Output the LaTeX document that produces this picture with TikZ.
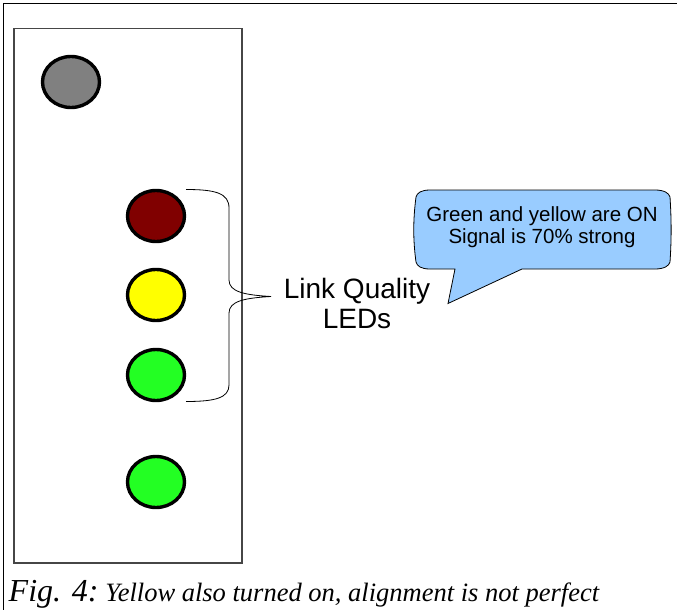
\documentclass[tikz,border=0pt]{standalone}
\usepackage{fontspec}
\usetikzlibrary{shapes.geometric}
\newfontfamily\arialf{Liberation Sans}
\newfontfamily\timesf{Liberation Serif}
\definecolor{ledgray}{RGB}{128,128,128}
\definecolor{ledred}{RGB}{128,0,0}
\definecolor{ledyellow}{RGB}{255,255,0}
\definecolor{ledgreen}{RGB}{35,255,35}
\definecolor{callblue}{RGB}{153,204,255}
\definecolor{framegray}{RGB}{70,70,70}
\begin{document}
\begin{tikzpicture}[x=1pt,y=-1pt,
  led/.style={ellipse, draw=black, line width=3.4pt, minimum width=57pt, minimum height=51pt, inner sep=0pt},
  lbl/.style={align=center, inner sep=0pt}]
\useasboundingbox (0,0) rectangle (677,610);
% outer frame (top and left only)
\draw[line width=1.2pt] (677,3.5) -- (3.5,3.5) -- (3.5,610);
% device panel
\draw[framegray, line width=1.1pt] (14,28.5) rectangle (242,563);
% LEDs
\node[led, fill=ledgray]   (power) at (71,82) {};
\node[led, fill=ledred]    (l1) at (156,216) {};
\node[led, fill=ledyellow] (l2) at (156,295) {};
\node[led, fill=ledgreen]  (l3) at (156,375) {};
\node[led, fill=ledgreen]  (l4) at (156,482) {};
% brace
\coordinate (btop) at (186,189.5);
\coordinate (btip) at (271,296.5);
\coordinate (bbot) at (186,401.5);
\draw[line width=0.8pt] (btop) .. controls (215,189.5) and (229,193) .. (229,208)
  -- (229,280) .. controls (229,292) and (245,295) .. (btip)
  .. controls (245,298) and (229,301) .. (229,313)
  -- (229,385) .. controls (229,398) and (215,401.5) .. (bbot);
% label
\node[lbl, font=\arialf\fontsize{28}{30}\selectfont] (lq) at (357,303) {Link Quality\\LEDs};
% callout
\draw[fill=callblue, line width=0.8pt]
  (430,190) -- (655,190) .. controls (664,190) and (669,193) .. (670,197)
  .. controls (671.5,220) and (671.5,240) .. (670,262)
  .. controls (669,266) and (664,269) .. (655,269)
  -- (522,269) -- (448,303.5) -- (455,269) -- (430,269)
  .. controls (421,269) and (417,266) .. (416,262)
  .. controls (413,240) and (413,220) .. (416,197)
  .. controls (417,193) and (421,190) .. (430,190) -- cycle;
\node[lbl, font=\arialf\fontsize{20.5}{21.5}\selectfont] (cl) at (542,227) {Green and yellow are ON\\Signal is 70\% strong};
% caption
\node[anchor=base west, inner sep=0pt] (cap) at (8.5,601)
  {{\timesf\itshape\fontsize{32}{32}\selectfont Fig. 4:}\hspace{7pt}{\timesf\itshape\fontsize{26.5}{26.5}\selectfont Yellow also turned on, alignment is not perfect}};
\end{tikzpicture}
\end{document}
